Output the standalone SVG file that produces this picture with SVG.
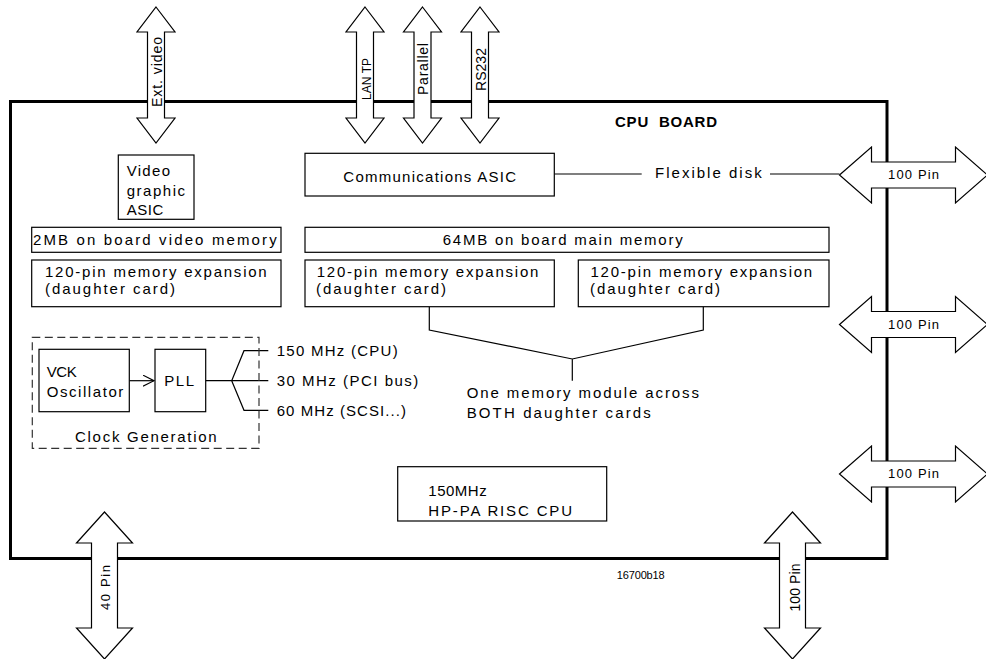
<svg xmlns="http://www.w3.org/2000/svg" width="986" height="659" viewBox="0 0 986 659">
<style>
.t{font-family:"Liberation Sans",Arial,sans-serif;font-size:15px;fill:#000}
.s{font-size:13px}
.box{fill:#fff;stroke:#000;stroke-width:1.2}
.port{fill:#fff;stroke:#000;stroke-width:1.2;stroke-linejoin:miter}
.ln{fill:none;stroke:#000;stroke-width:1.2}
</style>
<defs>
<marker id="open" viewBox="0 0 12 12" refX="11" refY="6" markerWidth="12" markerHeight="12" markerUnits="userSpaceOnUse" orient="auto">
<path d="M0,0.5 L11,6 L0,11.5" fill="none" stroke="#000" stroke-width="1.2"/>
</marker>
</defs>
<rect width="986" height="659" fill="#fff"/>
<g id="board">
<rect x="10.5" y="101.5" width="876.5" height="457" fill="none" stroke="#000" stroke-width="3"/>
<text class="t" x="615" y="127.3" font-weight="bold" textLength="102">CPU&#160; BOARD</text>
<text class="t" x="616.7" y="579.3" style="font-size:11px" textLength="48">16700b18</text>
</g>
<g id="connectors">
<line class="ln" x1="554.3" y1="174" x2="641.7" y2="174"/>
<line class="ln" x1="770" y1="174" x2="839.5" y2="174"/>
<line class="ln" x1="129.3" y1="380.7" x2="154" y2="380.7" marker-end="url(#open)"/>
<path class="ln" d="M205.7,380.7 H268.3 M231.7,380.7 L244,350.7 H268.3 M231.7,380.7 L244,410.3 H268.3"/>
<path class="ln" d="M429.3,306.7 V330 L572.3,359 L703.3,330 V306.7 M572.3,359 V380.7"/>
</g>
<g id="port-extvideo">
<polygon class="port" points="156,7 175,32 164.5,32 164.5,118 175,118 156,143 137,118 147.5,118 147.5,32 137,32"/>
<text class="t" transform="translate(162,72) rotate(-90)" text-anchor="middle" style="font-size:14px" textLength="70">Ext. video</text>
</g>
<g id="port-lantp">
<polygon class="port" points="365,7 384,32 373.5,32 373.5,118 384,118 365,143 346,118 356.5,118 356.5,32 346,32"/>
<text class="t" transform="translate(370.5,79) rotate(-90)" text-anchor="middle" style="font-size:12px">LAN&#160;TP</text>
</g>
<g id="port-parallel">
<polygon class="port" points="422.5,7 441.5,32 431,32 431,118 441.5,118 422.5,143 403.5,118 414,118 414,32 403.5,32"/>
<text class="t" transform="translate(428,69) rotate(-90)" text-anchor="middle" style="font-size:14px" textLength="52">Parallel</text>
</g>
<g id="port-rs232">
<polygon class="port" points="480,7 499,32 488.5,32 488.5,118 499,118 480,143 461,118 471.5,118 471.5,32 461,32"/>
<text class="t" transform="translate(486,69.5) rotate(-90)" text-anchor="middle" style="font-size:14px" textLength="43">RS232</text>
</g>
<g id="port-100pin-1">
<polygon class="port" points="839.5,175 871.5,147 871.5,162 955.5,162 955.5,147 987.5,175 955.5,203 955.5,188 871.5,188 871.5,203"/>
<text class="t s" x="888" y="179" textLength="51">100 Pin</text>
</g>
<g id="port-100pin-2">
<polygon class="port" points="839.5,324.5 871.5,296.5 871.5,311.5 955.5,311.5 955.5,296.5 987.5,324.5 955.5,352.5 955.5,337.5 871.5,337.5 871.5,352.5"/>
<text class="t s" x="888" y="328.5" textLength="51">100 Pin</text>
</g>
<g id="port-100pin-3">
<polygon class="port" points="839.5,474 871.5,446 871.5,461 955.5,461 955.5,446 987.5,474 955.5,502 955.5,487 871.5,487 871.5,502"/>
<text class="t s" x="888" y="478" textLength="51">100 Pin</text>
</g>
<g id="port-40pin">
<polygon class="port" points="104.5,512 132.5,543 117.5,543 117.5,628 132.5,628 104.5,659 76.5,628 91.5,628 91.5,543 76.5,543"/>
<text class="t s" transform="translate(109.5,587.5) rotate(-90)" text-anchor="middle" textLength="45">40 Pin</text>
</g>
<g id="port-100pin-bottom">
<polygon class="port" points="792.5,512 820.5,543 805.5,543 805.5,628 820.5,628 792.5,659 764.5,628 779.5,628 779.5,543 764.5,543"/>
<text class="t" transform="translate(800,587.5) rotate(-90)" text-anchor="middle" style="font-size:14px" textLength="48">100 Pin</text>
</g>
<g id="video-asic">
<rect class="box" x="118.3" y="155" width="75.7" height="64.3"/>
<text class="t" x="126.7" y="176" textLength="43.3">Video</text>
<text class="t" x="126.7" y="195.5" textLength="58.3">graphic</text>
<text class="t" x="126.7" y="215" textLength="36.6">ASIC</text>
</g>
<g id="comm-asic">
<rect class="box" x="305" y="153.3" width="249.3" height="42.7"/>
<text class="t" x="343.3" y="182.3" textLength="172.7">Communications ASIC</text>
</g>
<g id="flexible-disk">
<text class="t" x="655" y="178.3" textLength="106.7">Flexible disk</text>
</g>
<g id="video-memory">
<rect class="box" x="31.7" y="227.3" width="249.3" height="25"/>
<text class="t" x="33" y="245" textLength="243.7">2MB on board video memory</text>
</g>
<g id="main-memory">
<rect class="box" x="305" y="227.3" width="524" height="25"/>
<text class="t" x="442.7" y="245" textLength="240">64MB on board main memory</text>
</g>
<g id="mem-exp-1">
<rect class="box" x="31.7" y="260" width="249.3" height="46.7"/>
<text class="t" x="45" y="276.7" textLength="221.7">120-pin memory expansion</text>
<text class="t" x="45" y="294" textLength="130">(daughter card)</text>
</g>
<g id="mem-exp-2">
<rect class="box" x="305" y="260" width="249.3" height="46.7"/>
<text class="t" x="316.7" y="276.7" textLength="221.7">120-pin memory expansion</text>
<text class="t" x="316" y="294" textLength="130">(daughter card)</text>
</g>
<g id="mem-exp-3">
<rect class="box" x="578.3" y="260" width="250.7" height="46.7"/>
<text class="t" x="590.5" y="276.7" textLength="221.7">120-pin memory expansion</text>
<text class="t" x="590" y="294" textLength="130">(daughter card)</text>
</g>
<g id="memory-note">
<text class="t" x="466.7" y="398.3" textLength="232.3">One memory module across</text>
<text class="t" x="466.7" y="418.3" textLength="184">BOTH daughter cards</text>
</g>
<g id="clock-generation">
<rect x="32.3" y="337.3" width="226.7" height="111" fill="none" stroke="#333" stroke-width="1.2" stroke-dasharray="8 4.5"/>
<text class="t" x="75" y="442.3" textLength="141.7">Clock Generation</text>
</g>
<g id="vck-oscillator">
<rect class="box" x="39" y="349.3" width="90.3" height="62.4"/>
<text class="t" x="46.7" y="377.3" textLength="30">VCK</text>
<text class="t" x="46.7" y="396.7" textLength="76.6">Oscillator</text>
</g>
<g id="pll">
<rect class="box" x="155" y="349.3" width="50.7" height="62.4"/>
<text class="t" x="164.3" y="386" textLength="29.7">PLL</text>
</g>
<g id="clock-outputs">
<text class="t" x="276.7" y="356" textLength="121">150 MHz (CPU)</text>
<text class="t" x="276.7" y="386" textLength="141.6">30 MHz (PCI bus)</text>
<text class="t" x="276.7" y="415.7" textLength="129.3">60 MHz (SCSI...)</text>
</g>
<g id="cpu">
<rect class="box" x="397.7" y="466.7" width="209" height="54.3"/>
<text class="t" x="428.3" y="496" textLength="58.4">150MHz</text>
<text class="t" x="428.3" y="515.5" textLength="143.7">HP-PA RISC CPU</text>
</g>
</svg>
